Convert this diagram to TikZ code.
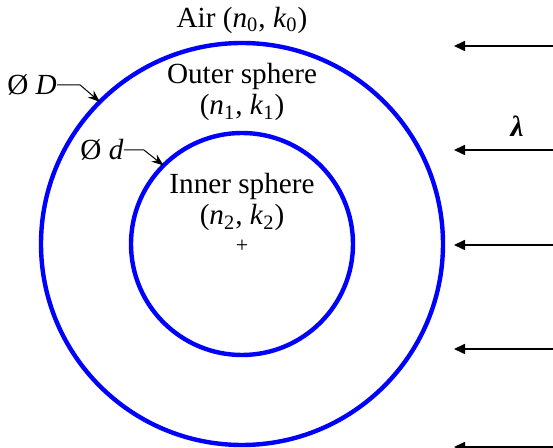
\documentclass[tikz,border=0pt]{standalone}
\usepackage{fontspec}
\setmainfont{Liberation Serif}
\usetikzlibrary{arrows.meta, positioning, calc}
\definecolor{Ring}{RGB}{0, 0, 255}
\newcommand{\nk}[1]{(\textit{n}\textsubscript{#1}, \textit{k}\textsubscript{#1})}

\begin{document}
\begin{tikzpicture}[
      x=0.5pt, y=-0.5pt,
      every node/.style={font=\fontsize{14.6}{15.8}\selectfont, inner sep=0pt},
      ring/.style={circle, draw=Ring, line width=2.2pt, outer sep=0pt},
      lead/.style={-{Stealth[length=6pt, width=4.5pt]}, line width=0.5pt},
      wave/.style={-{Triangle[length=5.5pt, width=5pt]}, line width=0.8pt}
    ]
      \useasboundingbox (0,0) rectangle (553,448);

      \node[ring, minimum size=201pt] (outer) at (242,244) {};
      \node[ring, minimum size=111pt] (inner) at (242,244) {};
      \node (centre) at (242,246) {\fontsize{11}{12}\selectfont +};

      \node (air) at (242,20) {Air \nk{0}};
      \node[align=center] (outtxt) at (242,92) {Outer sphere\\[0pt]\nk{1}};
      \node[align=center] (intxt) at (242,202) {Inner sphere\\[0pt]\nk{2}};

      \node (dD) at (32,85) {Ø \textit{D}};
      \node (dd) at (102,150) {Ø \textit{d}};
      \draw[lead] (dD.east) -- ++(23,0) -- (outer.135);
      \draw[lead] (dd.east) -- ++(20,0) -- (inner.135);

      \node (lam) at (517,126) {\textbf{\textit{λ}}};
      \foreach \y [count=\i] in {46,150,245,349,447} {
        \coordinate (s\i) at (553,\y);
        \coordinate (t\i) at (454,\y);
        \draw[wave] (s\i) -- (t\i);
      }
    \end{tikzpicture}
\end{document}
